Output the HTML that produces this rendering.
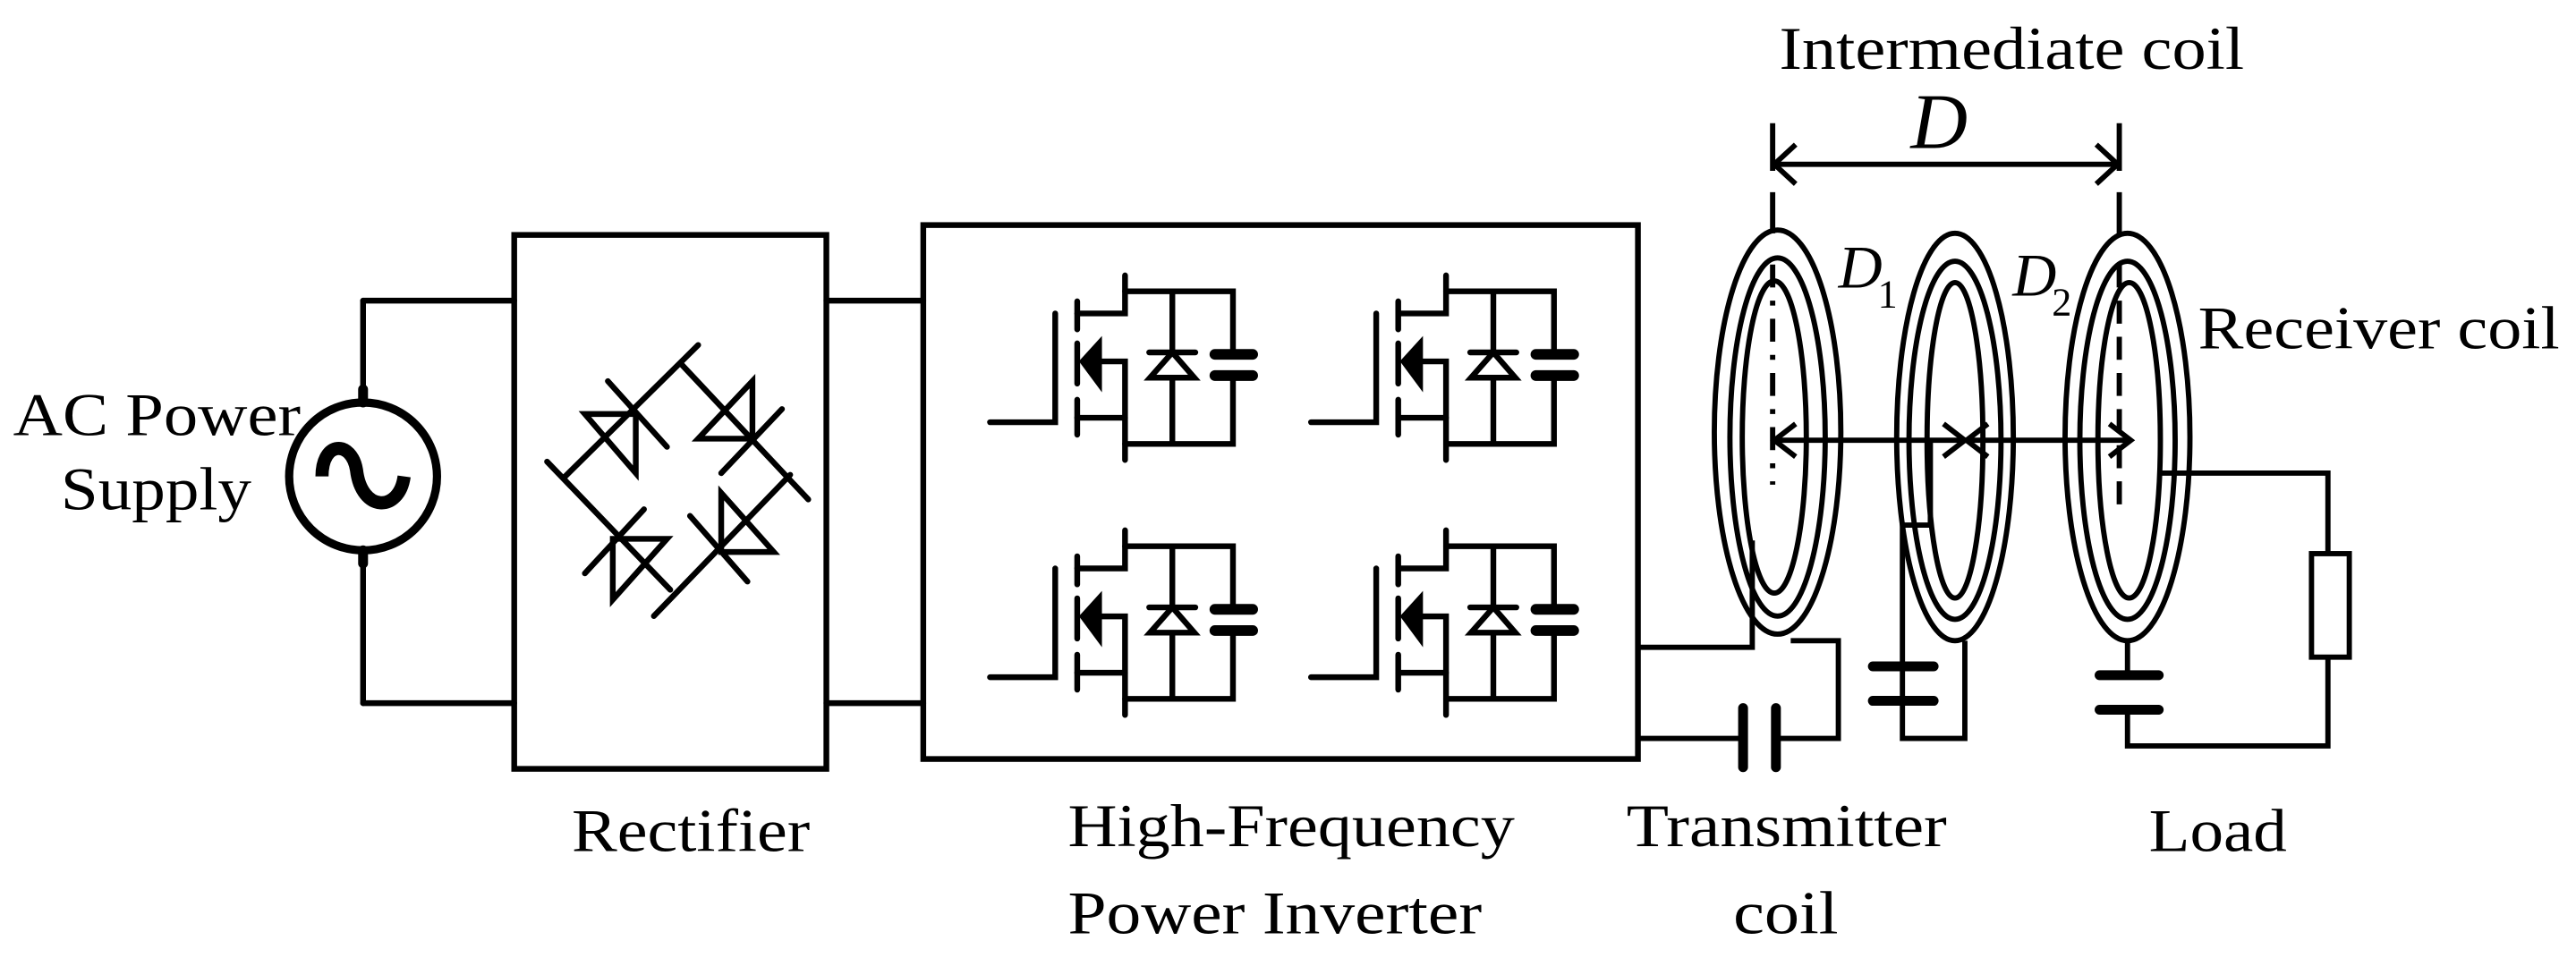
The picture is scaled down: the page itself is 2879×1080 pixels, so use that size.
<!DOCTYPE html>
<html><head><meta charset="utf-8"><style>
html,body{margin:0;padding:0;background:#fff;}
svg{display:block;}
text{font-family:"Liberation Serif","Times New Roman",serif;fill:#000;}
</style></head><body>
<svg width="2879" height="1080" viewBox="0 0 1568 588" preserveAspectRatio="none" xmlns="http://www.w3.org/2000/svg">
<defs>
<g id="cell" fill="none" stroke="#000" stroke-width="3.5" stroke-linecap="round">
<path d="M602.6,257 H642.3 V190.8"/>
<path d="M655.7,183.4 V200.5 M655.7,209 V233.5 M655.7,243.3 V264.6"/>
<path d="M655.7,190.8 H684.8 V167.6"/>
<path d="M684.8,177.3 H750.5 V215.7"/>
<path d="M713.6,177.3 V270.2"/>
<path d="M655.7,254.3 H684.8"/>
<path d="M670,220 H684.8 V280"/>
<polygon points="659,220 669,209 669,233.5" fill="#000"/>
<path d="M684.8,270.2 H750.5 V228.6"/>
<path d="M699.5,214.5 H727.6"/>
<polygon points="713.6,214.5 700,229.9 727,229.9" fill="#fff"/>
<path d="M739.5,215.7 H762.5 M739.5,228.6 H762.5" stroke-width="6.5"/>
</g>
</defs>

<g fill="none" stroke="#000" stroke-width="3.5" stroke-linecap="round">
<circle cx="221" cy="290" r="45" stroke-width="5"/>
<path d="M221,183 V245 M221,335 V428"/>
<path d="M221,237 V245 M221,335 V343" stroke-width="6"/>
<path d="M196,290 C196,268 214,268 217,286 C220,312 243,312 246,290" stroke-width="8" stroke-linecap="butt"/>
<path d="M221,183 H313 M221,428 H313"/>
<rect x="313" y="143" width="190" height="325"/>
<path d="M344,290 L425,210 M415,222 L492,304 M333,281 L408,359 M481,289 L398,375"/>
<polygon points="356,252 387,252 387,288" />
<path d="M370,232 L406,272"/>
<polygon points="425,267 458,267 458,232"/>
<path d="M439,288 L476,249"/>
<polygon points="373,328 406,328 373,365"/>
<path d="M356,349 L392,310"/>
<polygon points="471,336 439,336 439,300"/>
<path d="M420,314 L455,354"/>
<path d="M503,183 H562 M503,428 H562"/>
<rect x="562" y="137" width="435" height="325"/>
</g>
<use href="#cell"/>
<use href="#cell" transform="translate(195.4,0)"/>
<use href="#cell" transform="translate(0,155.2)"/>
<use href="#cell" transform="translate(195.4,155.2)"/>

<g fill="none" stroke="#000" stroke-width="3.2" stroke-linecap="butt">
<path d="M997,394 H1066.6 V329"/>
<path d="M997,449.5 H1061"/>
<path d="M1081,449.5 H1119 V390 H1090"/>
<path d="M1061,431 V467 M1081,431 V467" stroke-width="6" stroke-linecap="round"/>
<ellipse cx="1082" cy="263" rx="38.5" ry="123"/>
<ellipse cx="1082" cy="266" rx="29" ry="109"/>
<ellipse cx="1080" cy="266" rx="19.5" ry="95"/>
<ellipse cx="1190" cy="266" rx="35.5" ry="124"/>
<ellipse cx="1190" cy="268" rx="28" ry="109"/>
<ellipse cx="1190" cy="268" rx="17" ry="96"/>
<path d="M1175,268 V319.6 H1158 V449.5 H1196 V390"/>
<path d="M1140,405.6 H1177 M1140,426.6 H1177" stroke-width="6" stroke-linecap="round"/>
<ellipse cx="1295" cy="266" rx="38" ry="124"/>
<ellipse cx="1295" cy="268" rx="29" ry="109"/>
<ellipse cx="1296" cy="268" rx="19" ry="96"/>
<path d="M1314,288 H1417 V337 M1417,400 V454 H1295 V432 M1295,390 V411"/>
<rect x="1407" y="337" width="23" height="63"/>
<path d="M1278,411 H1314 M1278,432 H1314" stroke-width="6" stroke-linecap="round"/>
<path d="M1079,75 V104 M1079,117 V142 M1290,75 V104 M1290,117 V142"/>
<path d="M1079,100 H1290"/>
<path d="M1093,88 L1080,100 L1093,112 M1276,88 L1289,100 L1276,112"/>
<path d="M1079,161 V295" stroke-dasharray="14,8,3,8"/>
<path d="M1290,161 V310" stroke-dasharray="14,8"/>
<path d="M1079,268 H1297"/>
<path d="M1093,258 L1080,268 L1093,278 M1183,258 L1196,268 L1183,278 M1210,258 L1197,268 L1210,278 M1284,258 L1297,268 L1284,278"/>
</g>

<g font-size="37" font-family="Liberation Serif, serif">
<text x="8" y="265" textLength="175" lengthAdjust="spacingAndGlyphs">AC Power</text>
<text x="37" y="310" textLength="116" lengthAdjust="spacingAndGlyphs">Supply</text>
<text x="348" y="518" textLength="145" lengthAdjust="spacingAndGlyphs">Rectifier</text>
<text x="650" y="515" textLength="272" lengthAdjust="spacingAndGlyphs">High-Frequency</text>
<text x="650" y="568" textLength="252" lengthAdjust="spacingAndGlyphs">Power Inverter</text>
<text x="990" y="515" textLength="195" lengthAdjust="spacingAndGlyphs">Transmitter</text>
<text x="1055" y="568" textLength="64" lengthAdjust="spacingAndGlyphs">coil</text>
<text x="1308" y="518" textLength="84" lengthAdjust="spacingAndGlyphs">Load</text>
<text x="1083" y="42" textLength="283" lengthAdjust="spacingAndGlyphs">Intermediate coil</text>
<text x="1338" y="212" textLength="220" lengthAdjust="spacingAndGlyphs">Receiver coil</text>
<text x="1163" y="90" font-size="48" font-style="italic">D</text>
<text x="1119" y="175" font-style="italic">D</text><text x="1143" y="187" font-size="24">1</text>
<text x="1225" y="180" font-style="italic">D</text><text x="1249" y="192" font-size="24">2</text>
</g>
</svg>
</body></html>
